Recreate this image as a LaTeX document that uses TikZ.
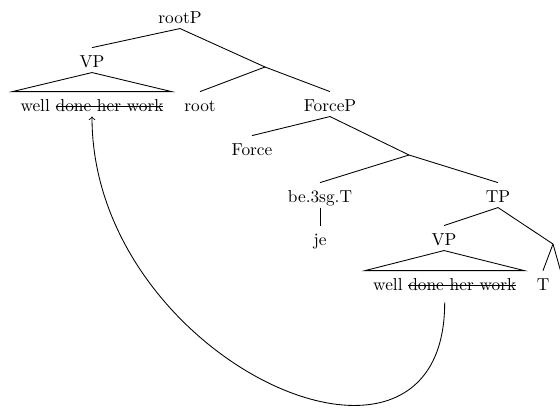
\documentclass[tikz,border=0pt]{standalone}
\newcommand\mystrike[1]{\setbox0\hbox{#1}\rlap{\rule[0.5ex]{\wd0}{0.5pt}}\box0}
\begin{document}
\begin{tikzpicture}[x=0.5774pt,y=-0.5774pt,
  lbl/.style={anchor=base, inner sep=1.5pt, text height=9.5pt, text depth=1.5pt},
  br/.style={line width=0.5pt},
  mv/.style={line width=0.5pt, ->, shorten <=4pt}]
\useasboundingbox (0,0) rectangle (560,412);
\clip (0,0) rectangle (560,412);
% labels
\node[lbl] (rootP) at (180,23) {rootP};
\node[lbl] (VPa) at (92,67) {VP};
\node[lbl] (txta) at (92,111) {well \mystrike{done her work}};
\node[lbl] (root) at (200,111) {root};
\node[lbl] (ForceP) at (330,111) {ForceP};
\node[lbl] (Force) at (252,155) {Force};
\node[lbl] (be) at (320,202) {be.3sg.T};
\node[lbl] (TP) at (498,202) {TP};
\node[lbl] (je) at (320,245) {je};
\node[lbl] (VPb) at (444,245) {VP};
\node[lbl] (txtb) at (444.7,290) {well \mystrike{done her work}};
\node[lbl] (T) at (543,290) {T};
% bar-level branch points
\coordinate (e1) at (265,67);
\coordinate (e2) at (409,155);
\coordinate (e3) at (553,244);
\coordinate (off) at (566,290);
% branches
\draw[br] (rootP.south) -- (VPa.north);
\draw[br] (rootP.south) -- (e1);
\draw[br] (e1) -- (root.north);
\draw[br] (e1) -- (ForceP.north);
\draw[br] (ForceP.south) -- (Force.north);
\draw[br] (ForceP.south) -- (e2);
\draw[br] (e2) -- (be.north);
\draw[br] (e2) -- (TP.north);
\draw[br] (be.south) -- (je.north);
\draw[br] (TP.south) -- (VPb.north);
\draw[br] (TP.south) -- (e3);
\draw[br] (e3) -- (T.north);
\draw[br] (e3) -- (off);
% triangles
\draw[br] (VPa.south) -- ([xshift=-3pt]txta.north west) -- ([xshift=3pt]txta.north east) -- cycle;
\draw[br] (VPb.south) -- ([xshift=-3pt]txtb.north west) -- ([xshift=3pt]txtb.north east) -- cycle;
% movement arrow
\draw[mv] (txtb.south) .. controls +(0,225) and +(0,244) .. (txta.south);
\end{tikzpicture}
\end{document}
